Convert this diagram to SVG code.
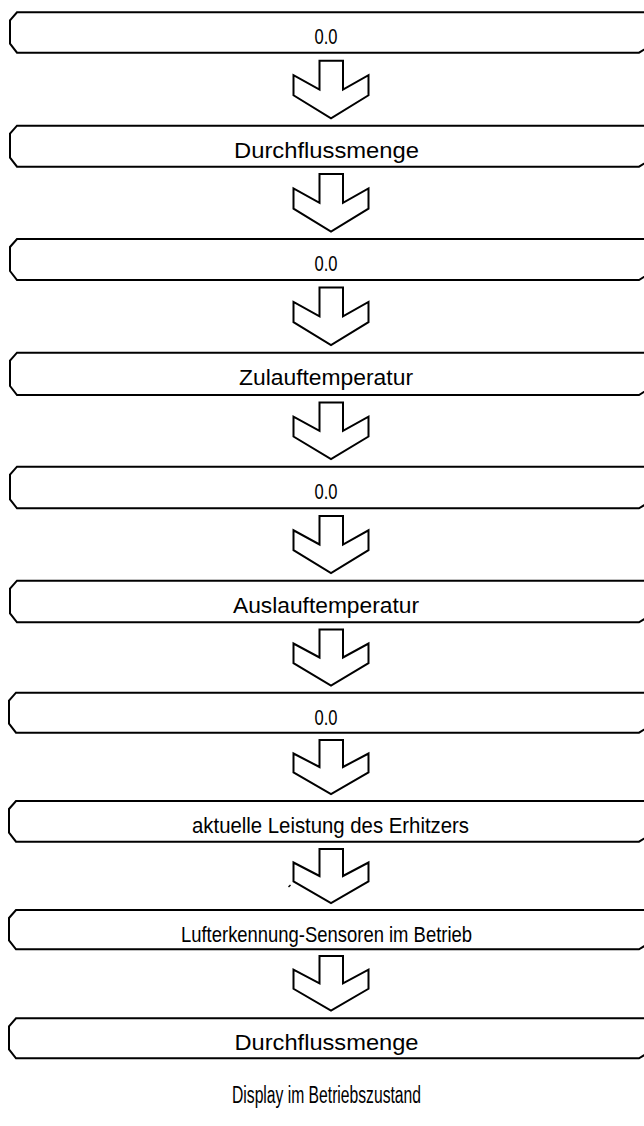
<svg xmlns="http://www.w3.org/2000/svg" width="644" height="1126" viewBox="0 0 644 1126">
<style>
.box{fill:#fff;stroke:#000;stroke-width:2;stroke-linejoin:miter}
.arr{fill:#fff;stroke:#000;stroke-width:2;stroke-linejoin:miter}
.t{font-family:"Liberation Sans",Arial,sans-serif;font-size:22px;fill:#000;text-anchor:middle}
.cap{font-family:"Liberation Sans",Arial,sans-serif;font-size:23px;fill:#000;text-anchor:middle}
</style>
<rect width="644" height="1126" fill="#fff"/>
<g id="n1"><path class="box" d="M17,12.3 H650 V44.7 L652,44.7 L639,52.7 H17 L10,43.7 V20.3 Z"/><text class="t" x="326" y="44.3" textLength="23" lengthAdjust="spacingAndGlyphs">0.0</text></g>
<g id="n2"><path class="box" d="M17,125.7 H650 V158.7 L652,158.7 L639,166.7 H17 L10,157.7 V133.7 Z"/><text class="t" x="326.5" y="157.7" textLength="185" lengthAdjust="spacingAndGlyphs">Durchflussmenge</text></g>
<g id="n3"><path class="box" d="M17,239 H650 V272 L652,272 L639,280 H17 L10,271 V247 Z"/><text class="t" x="326" y="271" textLength="23" lengthAdjust="spacingAndGlyphs">0.0</text></g>
<g id="n4"><path class="box" d="M17,352.7 H650 V387 L652,387 L639,395 H17 L10,386 V360.7 Z"/><text class="t" x="326" y="384.7" textLength="174" lengthAdjust="spacingAndGlyphs">Zulauftemperatur</text></g>
<g id="n5"><path class="box" d="M17,466.7 H650 V500.3 L652,500.3 L639,508.3 H17 L10,499.3 V474.7 Z"/><text class="t" x="326" y="498.7" textLength="23" lengthAdjust="spacingAndGlyphs">0.0</text></g>
<g id="n6"><path class="box" d="M17,580.7 H650 V614.3 L652,614.3 L639,622.3 H17 L10,613.3 V588.7 Z"/><text class="t" x="326" y="612.7" textLength="186" lengthAdjust="spacingAndGlyphs">Auslauftemperatur</text></g>
<g id="n7"><path class="box" d="M16,692.7 H650 V724.7 L652,724.7 L639,732.7 H16 L9,723.7 V700.7 Z"/><text class="t" x="326" y="724.7" textLength="23" lengthAdjust="spacingAndGlyphs">0.0</text></g>
<g id="n8"><path class="box" d="M16,801 H650 V833.7 L652,833.7 L639,841.7 H16 L9,832.7 V809 Z"/><text class="t" x="330.5" y="833" textLength="277" lengthAdjust="spacingAndGlyphs">aktuelle Leistung des Erhitzers</text></g>
<g id="n9"><path class="box" d="M16,910 H650 V941.3 L652,941.3 L639,949.3 H16 L9,940.3 V918 Z"/><text class="t" x="326.5" y="942" textLength="291" lengthAdjust="spacingAndGlyphs">Lufterkennung-Sensoren im Betrieb</text></g>
<g id="n10"><path class="box" d="M16,1018.3 H650 V1050.3 L652,1050.3 L639,1058.3 H16 L9,1049.3 V1026.3 Z"/><text class="t" x="326.5" y="1050.3" textLength="184" lengthAdjust="spacingAndGlyphs">Durchflussmenge</text></g>
<g id="connectors">
<polygon class="arr" points="319.5,60.7 343,60.7 343,89.5 368.5,75.1 368.5,95.3 331,118.3 293.5,95.3 293.5,75.1 319.5,89.5"/>
<polygon class="arr" points="319.5,174 343,174 343,202.9 368.5,188.4 368.5,208.6 331,231.7 293.5,208.6 293.5,188.4 319.5,202.9"/>
<polygon class="arr" points="319.5,287.5 343,287.5 343,316.4 368.5,301.9 368.5,322.1 331,345.2 293.5,322.1 293.5,301.9 319.5,316.4"/>
<polygon class="arr" points="319.5,402.5 343,402.5 343,430.9 368.5,416.7 368.5,436.5 331,459.2 293.5,436.5 293.5,416.7 319.5,430.9"/>
<polygon class="arr" points="319.5,516 343,516 343,544.5 368.5,530.3 368.5,550.2 331,573 293.5,550.2 293.5,530.3 319.5,544.5"/>
<polygon class="arr" points="319.5,629.5 343,629.5 343,657.5 368.5,643.5 368.5,663.1 331,685.5 293.5,663.1 293.5,643.5 319.5,657.5"/>
<polygon class="arr" points="319.5,740 343,740 343,767 368.5,753.5 368.5,772.4 331,794 293.5,772.4 293.5,753.5 319.5,767"/>
<polygon class="arr" points="319.5,849 343,849 343,876 368.5,862.5 368.5,881.4 331,903 293.5,881.4 293.5,862.5 319.5,876"/>
<polygon class="arr" points="319.5,956 343,956 343,983.4 368.5,969.7 368.5,988.8 331,1010.7 293.5,988.8 293.5,969.7 319.5,983.4"/>
<path d="M288.5,887 L290.5,885" stroke="#000" stroke-width="1.5" fill="none"/>
</g>
<text class="cap" x="326.5" y="1103" textLength="189" lengthAdjust="spacingAndGlyphs">Display im Betriebszustand</text>
</svg>
